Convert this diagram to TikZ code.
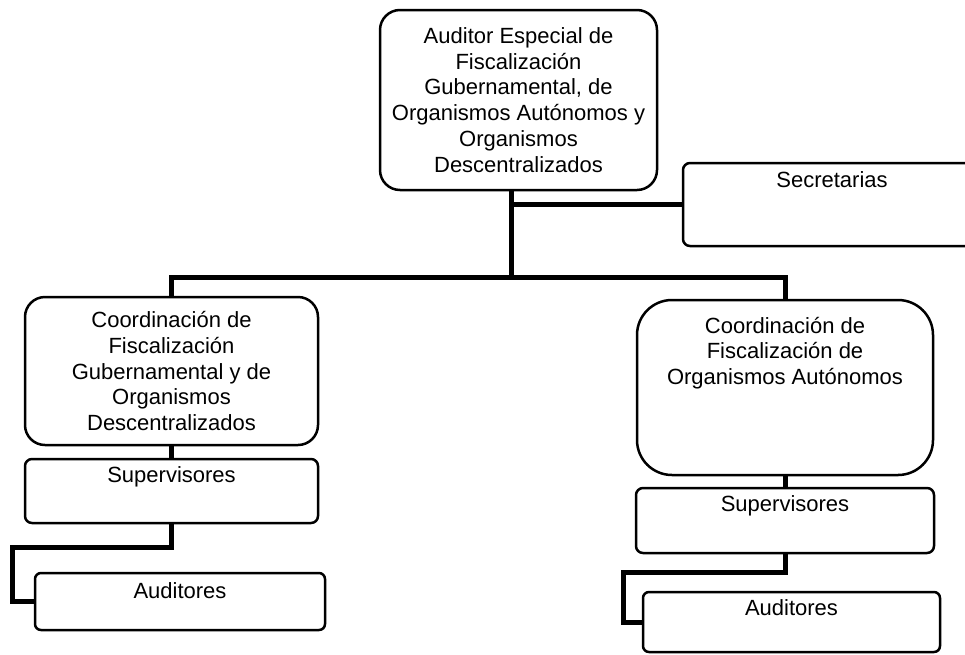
\documentclass[tikz,border=0pt]{standalone}
\usepackage{fontspec}
\setmainfont{Liberation Sans}
\usetikzlibrary{positioning}
\tikzset{
  orgbox/.style={draw,line width=2.5pt,rounded corners=7pt,align=center,inner sep=0pt},
  lbl/.style={align=center,inner sep=0pt},
  link/.style={line width=5pt}
}
\begin{document}
\begin{tikzpicture}[x=1pt,y=-1pt,font=\fontsize{22}{25.8}\selectfont]
\useasboundingbox (0,0) rectangle (965,654);
\node[orgbox,rounded corners=20pt,minimum width=277pt,minimum height=180pt] (auditor) at (518.5,100) {Auditor Especial de\\Fiscalización\\Gubernamental, de\\Organismos Autónomos y\\Organismos\\Descentralizados};
\node[orgbox,minimum width=298pt,minimum height=83pt] (sec) at (832,204.5) {};
\node[lbl,below=10pt of sec.north] (sectxt) {Secretarias};
\coordinate (hub) at (511,277);
\node[orgbox,rounded corners=20pt,minimum width=293pt,minimum height=148pt] (coordgob) at (171.5,371) {Coordinación de\\Fiscalización\\Gubernamental y de\\Organismos\\Descentralizados};
\node[orgbox,rounded corners=35pt,minimum width=296pt,minimum height=175pt] (coordaut) at (785,387.5) {};
\node[lbl,below=18pt of coordaut.north] (coordauttxt) {Coordinación de\\Fiscalización de\\Organismos Autónomos};
\node[orgbox,minimum width=293pt,minimum height=64pt] (supgob) at (171.5,491) {};
\node[lbl,below=9pt of supgob.north] (supgobtxt) {Supervisores};
\node[orgbox,rounded corners=6pt,minimum width=290pt,minimum height=57pt] (audgob) at (180,601.5) {};
\node[lbl,below=11pt of audgob.north] (audgobtxt) {Auditores};
\node[orgbox,minimum width=298pt,minimum height=65pt] (supaut) at (785,520.5) {};
\node[lbl,below=9pt of supaut.north] (supauttxt) {Supervisores};
\node[orgbox,rounded corners=6pt,minimum width=297pt,minimum height=60pt] (audaut) at (791.5,622) {};
\node[lbl,below=9pt of audaut.north] (audauttxt) {Auditores};
\coordinate (jobgob) at (12,547);
\coordinate (jobaut) at (623,572);
\draw[link] (auditor.south -| hub) -- (hub);
\draw[link] (hub |- sec.west) -- (sec.west);
\draw[link] (coordgob.north) -- (coordgob.north |- hub) -| (coordaut.north);
\draw[link] (coordgob.south) -- (supgob.north);
\draw[link] (coordaut.south) -- (supaut.north);
\draw[link] (supgob.south) |- (jobgob) |- (audgob.west);
\draw[link] (supaut.south) |- (jobaut) |- (audaut.west);
\end{tikzpicture}
\end{document}
